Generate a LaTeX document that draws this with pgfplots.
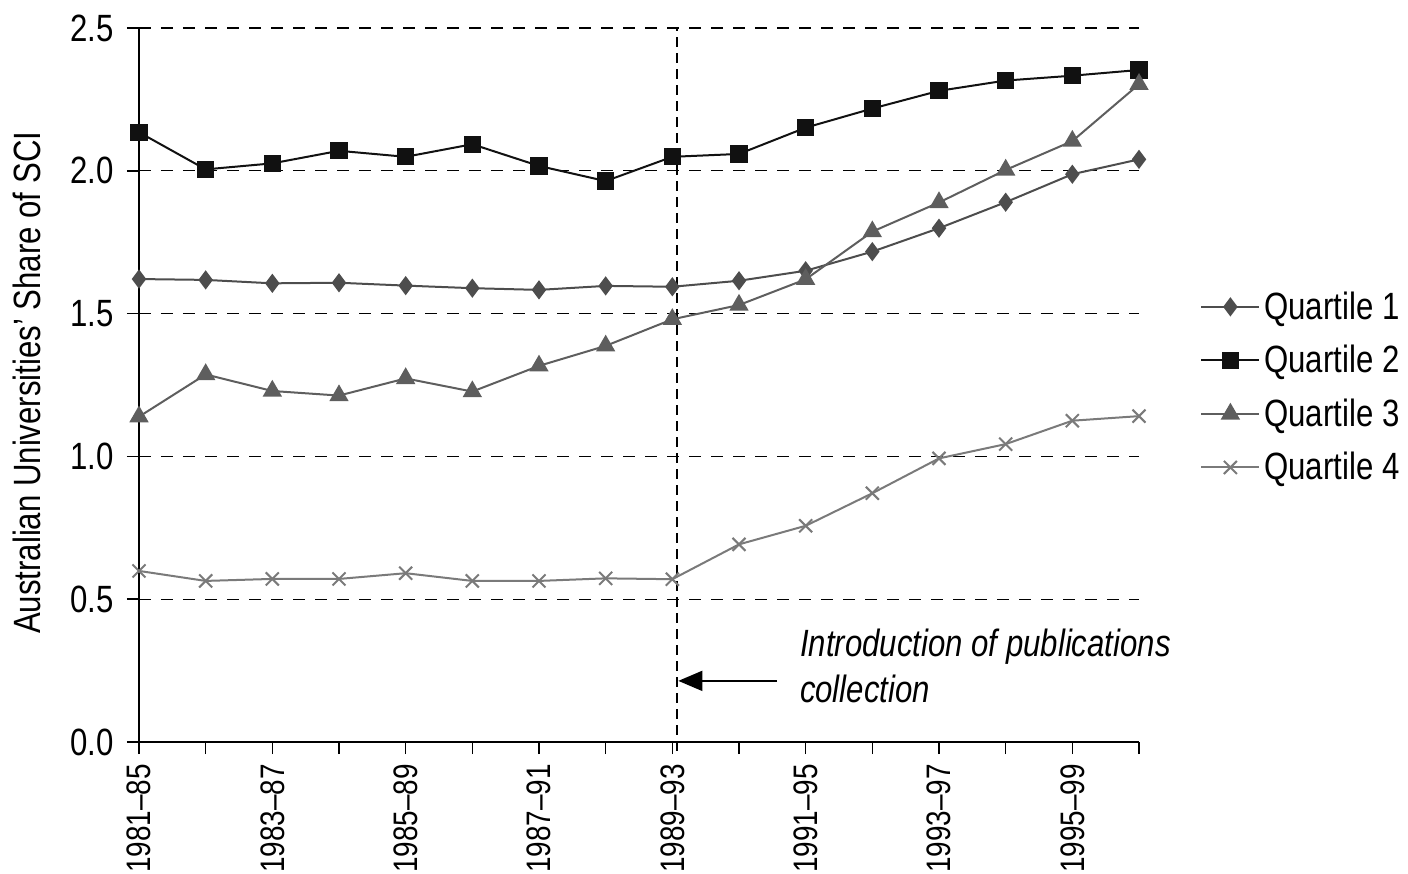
\documentclass[border=0pt]{standalone}
\usepackage{pgfplots}
\pgfplotsset{compat=1.18}
\usepackage{fontspec}
\setmainfont{Liberation Sans}[FakeStretch=0.82]
\usetikzlibrary{arrows.meta}
\definecolor{qone}{HTML}{4D4D4D}
\definecolor{qtwo}{HTML}{111111}
\definecolor{qthree}{HTML}{5E5E5E}
\definecolor{qfour}{HTML}{7A7A7A}
\begin{document}
\begin{tikzpicture}[font=\fontsize{19}{22.5}\selectfont]
\begin{axis}[
  at={(0,0)}, anchor=south west,
  scale only axis, width=500pt, height=357pt,
  xmin=0, xmax=15, ymin=0, ymax=2.5,
  clip=false,
  axis x line=bottom, axis y line=left,
  axis line style={-, line width=0.9pt, black},
  tick align=outside, major tick length=6pt,
  tick style={line width=0.8pt, black},
  xtick={0,...,15},
  xticklabels={1981--85,,1983--87,,1985--89,,1987--91,,1989--93,,1991--95,,1993--97,,1995--99,},
  xticklabel style={rotate=90, anchor=east, font=\fontsize{17}{20}\selectfont, inner xsep=5pt},
  ytick={0,0.5,...,2.5},
  yticklabel style={xshift=-3pt, /pgf/number format/.cd, fixed, fixed zerofill, precision=1, assume math mode=true},
  ymajorgrids,
  y grid style={black, line width=0.7pt, dash pattern=on 6pt off 5pt},
  ylabel={Australian Universities' Share of SCI},
  ylabel style={at={(axis description cs:-0.112,0.503)}, anchor=center, rotate=0},
  legend style={draw=none, fill=none, at={(1.061,0.497)}, anchor=west, inner sep=0pt, row sep=7.5pt, font=\fontsize{19}{22.5}\selectfont},
  legend cell align=left,
  legend image code/.code={\draw[mark repeat=2,mark phase=2,#1] plot coordinates {(0pt,0pt)(14.5pt,0pt)(29pt,0pt)};},
]
\addplot[qone, line width=1pt, mark=diamond*, mark size=4pt, mark options={fill=qone, draw=qone, solid}] coordinates {
(0,1.621)(1,1.618)(2,1.606)(3,1.608)(4,1.598)(5,1.589)(6,1.583)(7,1.597)(8,1.594)(9,1.615)(10,1.650)(11,1.717)(12,1.799)(13,1.890)(14,1.988)(15,2.040)};
\addlegendentry{Quartile 1}
\addplot[qtwo, line width=1pt, mark=square*, mark size=3.8pt, mark options={fill=qtwo, draw=qtwo, solid}] coordinates {
(0,2.135)(1,2.005)(2,2.026)(3,2.070)(4,2.049)(5,2.093)(6,2.017)(7,1.964)(8,2.049)(9,2.059)(10,2.151)(11,2.218)(12,2.280)(13,2.316)(14,2.333)(15,2.353)};
\addlegendentry{Quartile 2}
\addplot[qthree, line width=1pt, mark=triangle*, mark size=4.6pt, mark options={fill=qthree, draw=qthree, solid}] coordinates {
(0,1.139)(1,1.287)(2,1.229)(3,1.213)(4,1.273)(5,1.227)(6,1.317)(7,1.387)(8,1.480)(9,1.530)(10,1.620)(11,1.787)(12,1.889)(13,2.003)(14,2.104)(15,2.303)};
\addlegendentry{Quartile 3}
\addplot[qfour, line width=1pt, mark=x, mark size=4.6pt, mark options={draw=qfour, line width=1pt, solid}] coordinates {
(0,0.599)(1,0.564)(2,0.571)(3,0.571)(4,0.591)(5,0.564)(6,0.564)(7,0.573)(8,0.570)(9,0.692)(10,0.757)(11,0.871)(12,0.993)(13,1.043)(14,1.125)(15,1.141)};
\addlegendentry{Quartile 4}
\draw[black, line width=0.9pt, dash pattern=on 5pt off 3pt] (axis cs:8.07,-0.03) -- (axis cs:8.07,2.5);
\draw[black, line width=0.8pt, -{Triangle[length=12pt,width=10pt]}] (axis cs:9.57,0.214) -- (axis cs:8.09,0.214);
\node[anchor=west, align=left, font=\fontsize{19}{23}\selectfont\itshape, inner sep=0pt] at (axis cs:9.91,0.265) {Introduction of publications\\collection};
\end{axis}
\pgfresetboundingbox
\path (-69.5pt,-65.5pt) rectangle (634.5pt,371pt);
\end{tikzpicture}
\end{document}
